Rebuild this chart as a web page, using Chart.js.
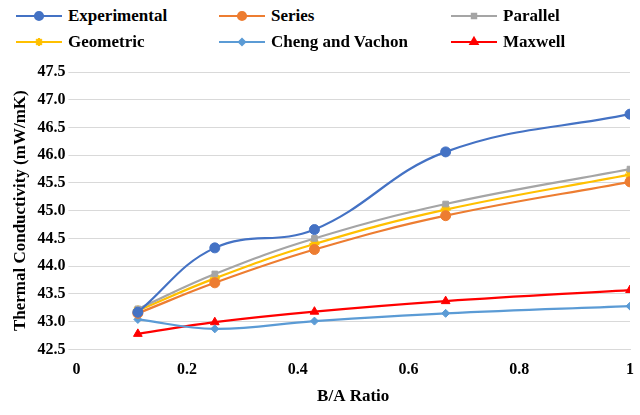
<!DOCTYPE html>
<html>
<head>
<meta charset="utf-8">
<script src="https://cdn.jsdelivr.net/npm/chart.js@4"></script>
<style>
  body { margin: 0; background: #fff; font-family: "Liberation Serif", serif; }
  #wrap { position: relative; width: 640px; height: 415px; }
  #legend { position: absolute; left: 14px; top: 4px; width: 620px; display: grid;
    grid-template-columns: 203px 232px 180px; row-gap: 2px; font: bold 17px "Liberation Serif", serif; }
  .item { display: flex; align-items: center; height: 24px; }
  .item canvas { margin-right: 4px; }
  #box { position: absolute; left: 0; top: 52px; width: 640px; height: 363px; }
</style>
</head>
<body>
<div id="wrap">
  <div id="legend"></div>
  <div id="box"><canvas id="chart"></canvas></div>
</div>
<script>
const ratios = [0.111, 0.25, 0.43, 0.667, 1];
const experimental = [43.17, 44.33, 44.66, 46.06, 46.74];
const series = [43.15, 43.70, 44.30, 44.91, 45.52];
const parallel = [43.23, 43.86, 44.50, 45.12, 45.75];
const geometric = [43.20, 43.78, 44.40, 45.02, 45.65];
const chengVachon = [43.04, 42.87, 43.01, 43.15, 43.28];
const maxwell = [42.78, 42.99, 43.18, 43.37, 43.57];

const defs = [
  { label: 'Experimental', data: experimental, color: '#4472C4', point: 'circle', r: 5 },
  { label: 'Series', data: series, color: '#ED7D31', point: 'circle', r: 5 },
  { label: 'Parallel', data: parallel, color: '#A5A5A5', point: 'rect', r: 4 },
  { label: 'Geometric', data: geometric, color: '#FFC000', point: 'star', r: 5 },
  { label: 'Cheng and Vachon', data: chengVachon, color: '#5B9BD5', point: 'rectRot', r: 4 },
  { label: 'Maxwell', data: maxwell, color: '#FF0000', point: 'triangle', r: 5 }
];

const datasets = defs.map(d => ({
  label: d.label,
  data: d.data.map((v, i) => ({ x: ratios[i], y: v })),
  borderColor: d.color,
  backgroundColor: d.color,
  borderWidth: 2.2,
  pointStyle: d.point,
  pointRadius: d.r,
  pointBorderWidth: d.point === 'star' ? 2.5 : 1,
  tension: 0.4
}));

// legend drawn as small swatches
const legend = document.getElementById('legend');
defs.forEach(d => {
  const item = document.createElement('div');
  item.className = 'item';
  const c = document.createElement('canvas');
  c.width = 50; c.height = 16;
  const g = c.getContext('2d');
  g.strokeStyle = d.color; g.lineWidth = 2.2;
  g.beginPath(); g.moveTo(2, 8); g.lineTo(48, 8); g.stroke();
  g.fillStyle = d.color; g.strokeStyle = d.color;
  Chart.helpers.drawPoint(g, { pointStyle: d.point, radius: d.r - 1, borderWidth: 1 }, 25, 8);
  g.fill();
  item.appendChild(c);
  const t = document.createElement('span');
  t.textContent = d.label;
  item.appendChild(t);
  legend.appendChild(item);
});

Chart.defaults.font.family = 'Liberation Serif';
const font = { family: 'Liberation Serif', size: 16, weight: 'bold' };
new Chart(document.getElementById('chart'), {
  type: 'line',
  data: { datasets },
  options: {
    responsive: true,
    maintainAspectRatio: false,
    animation: false,
    layout: { padding: { left: 6, right: 10, top: 20, bottom: 4 } },
    plugins: { legend: { display: false }, tooltip: { enabled: false } },
    scales: {
      x: {
        type: 'linear', min: 0, max: 1,
        ticks: { stepSize: 0.2, color: '#000', font, callback: v => v === 0 || v === 1 ? String(v) : v.toFixed(1) },
        grid: { display: false },
        border: { color: '#D9D9D9' },
        title: { display: true, text: 'B/A Ratio', color: '#000', font: { ...font, size: 17 } }
      },
      y: {
        min: 42.5, max: 47.5,
        ticks: { stepSize: 0.5, color: '#000', font },
        grid: { color: '#D9D9D9' },
        border: { display: false },
        title: { display: true, text: 'Thermal Conductivity (mW/mK)', color: '#000', font: { ...font, size: 17 } }
      }
    }
  }
});
</script>
</body>
</html>
